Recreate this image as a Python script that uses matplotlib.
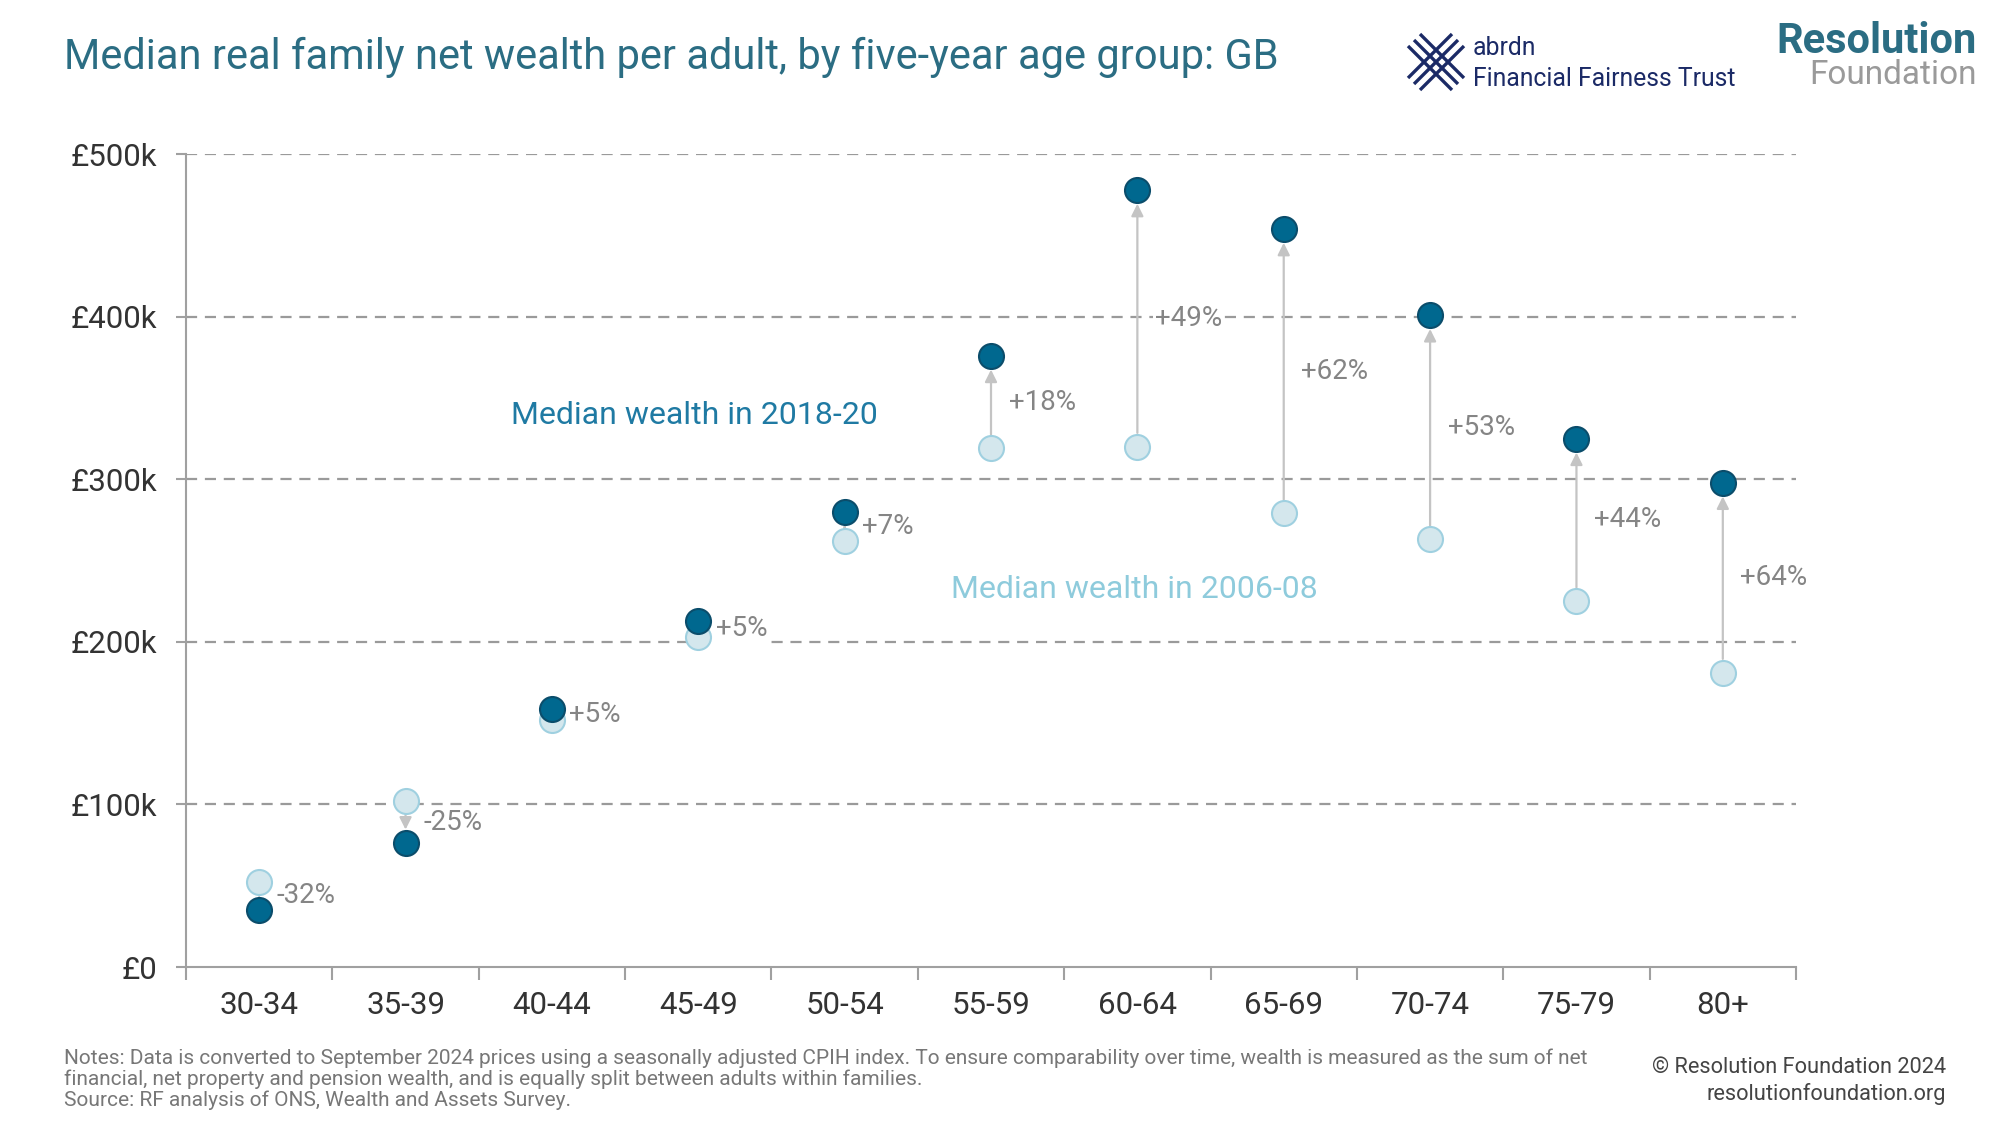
import numpy as np
import matplotlib
matplotlib.use("Agg")
import matplotlib.pyplot as plt
from matplotlib.lines import Line2D

plt.rcParams['font.family'] = ['Roboto', 'DejaVu Sans']

# data (£k)
ages = ['30-34', '35-39', '40-44', '45-49', '50-54', '55-59',
        '60-64', '65-69', '70-74', '75-79', '80+']
wealth_0608 = [52.6, 102, 152, 203, 262, 319, 320, 279, 263, 225, 181]
wealth_1820 = [35.3, 76, 159, 213, 280, 376, 478, 454, 401, 325, 298]
change_labels = ['-32%', '-25%', '+5%', '+5%', '+7%', '+18%',
                 '+49%', '+62%', '+53%', '+44%', '+64%']
yticks = [0, 100, 200, 300, 400, 500]
ytick_labels = ['£0', '£100k', '£200k', '£300k', '£400k', '£500k']

dark = '#00688f'
dark_edge = '#0b4d6b'
light = '#d4e7ed'
light_edge = '#9fd0e0'
title_col = '#2b6d83'
grey_txt = '#858585'

W, H = 2000, 1125
fig = plt.figure(figsize=(20, 11.25), dpi=100)
ax = fig.add_axes([0.093, 0.1404, 0.805, 0.7226])

x = np.arange(len(ages))
ax.set_xlim(-0.5, len(ages) - 0.5)
ax.set_ylim(0, 500)

# grid
for yv in yticks[1:]:
    ax.axhline(yv, color='#9a9a9a', lw=1.6, ls=(0, (5, 3.5)), zorder=0)

msize = 18
rad = msize / 2 + 1

# arrows from 2006-08 to 2018-20
for i in range(len(ages)):
    o, n = wealth_0608[i], wealth_1820[i]
    if abs(n - o) < 12:
        continue
    ax.annotate('', xy=(x[i], n), xytext=(x[i], o),
                arrowprops=dict(arrowstyle='-|>', color='#c4c4c4', lw=1.6,
                                shrinkA=rad, shrinkB=rad, mutation_scale=18),
                zorder=2)

ax.plot(x, wealth_0608, 'o', ms=msize, mfc=light, mec=light_edge, mew=1.5,
        zorder=3, clip_on=False)
ax.plot(x, wealth_1820, 'o', ms=msize, mfc=dark, mec=dark_edge, mew=1.5,
        zorder=4, clip_on=False)

# change labels
for i in range(len(ages)):
    mid = (wealth_0608[i] + wealth_1820[i]) / 2
    ax.text(x[i] + 0.12, mid, change_labels[i], fontsize=20, color=grey_txt,
            ha='left', va='center', zorder=5,
            bbox=dict(facecolor='white', edgecolor='none', pad=1.5))

# series labels
ax.text(1.72, 339, 'Median wealth in 2018-20', fontsize=23, color='#1f7aa3',
        ha='left', va='center')
ax.text(4.73, 232, 'Median wealth in 2006-08', fontsize=23, color='#8ecbdc',
        ha='left', va='center')

# axes styling
for s in ['top', 'right']:
    ax.spines[s].set_visible(False)
for s in ['left', 'bottom']:
    ax.spines[s].set_color('#a0a0a0')
    ax.spines[s].set_linewidth(1.5)

ax.set_yticks(yticks)
ax.set_yticklabels(ytick_labels)
ax.tick_params(axis='y', length=7, width=1.5, color='#a0a0a0',
               labelsize=22.5, labelcolor='#333333', pad=14)
ax.set_xticks(x)
ax.set_xticklabels(ages)
ax.set_xticks(np.arange(-0.5, len(ages), 1.0), minor=True)
ax.tick_params(axis='x', which='major', length=0, labelsize=22.5,
               labelcolor='#333333', pad=17)
ax.tick_params(axis='x', which='minor', length=9, width=1.5, color='#a0a0a0')

# title
fig.text(0.032, 0.949, 'Median real family net wealth per adult, by five-year age group: GB',
         fontsize=30, color=title_col, ha='left', va='center')

# logos (approximations)
navy = '#1b2a66'
cx, cy, h = 1436, 62, 22   # icon centre / half-size in pixels (y from top)
for k in (-1, 0, 1):
    o = 6 * k
    # "\" strokes
    xs = [cx - h + o, cx + h + o]
    ys = [cy - h - o, cy + h - o]
    fig.add_artist(Line2D([v / W for v in xs], [1 - v / H for v in ys],
                          color=navy, lw=2.4, solid_capstyle='butt'))
    # "/" strokes
    xs = [cx - h + o, cx + h + o]
    ys = [cy + h + o, cy - h + o]
    fig.add_artist(Line2D([v / W for v in xs], [1 - v / H for v in ys],
                          color=navy, lw=2.4, solid_capstyle='butt'))
fig.text(0.7365, 0.957, 'abrdn', fontsize=17.8, color=navy, ha='left', va='center')
fig.text(0.7365, 0.930, 'Financial Fairness Trust', fontsize=17.8, color=navy,
         ha='left', va='center')
fig.text(0.9885, 0.963, 'Resolution', fontsize=30, color=title_col,
         fontweight='bold', ha='right', va='center')
fig.text(0.9885, 0.933, 'Foundation', fontsize=24, color='#9a9a9a',
         ha='right', va='center')

# footnotes
notes = ('Notes: Data is converted to September 2024 prices using a seasonally adjusted CPIH index. '
         'To ensure comparability over time, wealth is measured as the sum of net\n'
         'financial, net property and pension wealth, and is equally split between adults within families.\n'
         'Source: RF analysis of ONS, Wealth and Assets Survey.')
fig.text(0.032, 0.041, notes, fontsize=15, color='#777777', ha='left', va='center',
         linespacing=1.1)
fig.text(0.973, 0.039, '© Resolution Foundation 2024\nresolutionfoundation.org',
         fontsize=15.7, color='#444444', ha='right', va='center', linespacing=1.3)

fig.savefig('out.png', dpi=100)
